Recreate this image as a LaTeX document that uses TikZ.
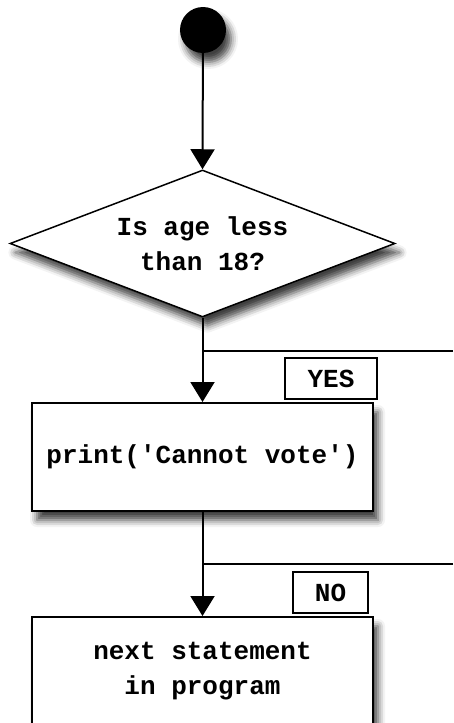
\documentclass[tikz,border=0pt]{standalone}
\usepackage{fontspec}
\setmonofont{Liberation Mono}
\usetikzlibrary{shapes.geometric,arrows.meta,shadows.blur}

\tikzset{
  flowtext/.style={font=\ttfamily\bfseries\fontsize{26}{35}\selectfont, align=center},
  flowshadow/.style={blur shadow={shadow xshift=5pt, shadow yshift=-9pt, shadow blur radius=7pt, shadow opacity=75}},
  stepbox/.style={flowtext, draw, line width=2pt, fill=white, flowshadow,
    minimum width=341pt, minimum height=108pt, inner sep=0pt},
  tagbox/.style={flowtext, draw, line width=2pt, fill=white,
    minimum height=41pt, inner sep=0pt},
  flow/.style={line width=2pt, -{Triangle[width=24pt,length=20pt]}}
}

\begin{document}
\begin{tikzpicture}[x=1pt, y=-1pt]
    \useasboundingbox (0,0) rectangle (453,723);

    % Start point.
    \node (start) at (203,30) [circle, fill=black, minimum size=46pt, inner sep=0pt, flowshadow] {};

    % Decision.
    \node (decide) at (202.5,243.5) [diamond, draw, line width=1.5pt, fill=white, flowshadow,
      aspect=2.62, minimum width=385pt, minimum height=147pt, inner sep=0pt, flowtext]
      {Is age less\\ than 18?};

    % Statements.
    \node (cannot) at (202.5,457) [stepbox] {print('Cannot vote')};
    \node (next)   at (202.5,671) [stepbox] {next statement\\in program};

    % Branch tags.
    \node (yes) at (331,378.5)   [tagbox, minimum width=92pt] {YES};
    \node (no)  at (330.5,592.5) [tagbox, minimum width=75pt] {NO};

    % Branches coming in from the right.
    \coordinate (yesin) at (453,351);
    \coordinate (noin)  at (453,564);
    \draw [line width=2pt] (yesin) -- (decide.south |- yesin);
    \draw [line width=2pt] (noin)  -- (cannot.south |- noin);

    % Arrows between steps.
    \draw [flow] (start)        -- (decide.north);
    \draw [flow] (decide.south) -- (cannot.north);
    \draw [flow] (cannot.south) -- (next.north);

\end{tikzpicture}
\end{document}
